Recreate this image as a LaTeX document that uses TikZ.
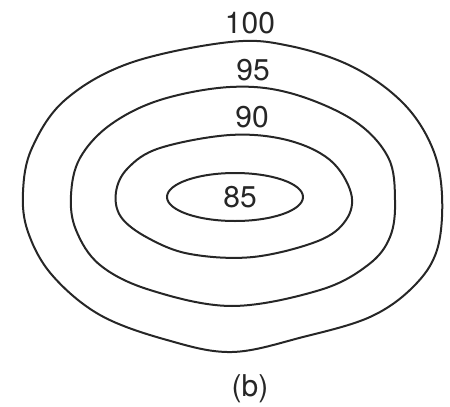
\documentclass[tikz,border=0pt]{standalone}
\usepackage{fontspec}
\setmainfont{TeX Gyre Heros}
\begin{document}
\begin{tikzpicture}[x=1pt,y=-1pt,
  contour/.style={draw=black!85,line width=2pt},
  lbl/.style={inner sep=0pt,text=black!85,font=\fontsize{30}{32}\selectfont}]
\useasboundingbox (0,0) rectangle (450,407);
% 100 contour
\draw[contour] plot[smooth cycle,tension=0.6] coordinates {
 (230,42) (290,46) (353,67) (403,103) (432,147) (442,195) (437,250) (413,287)
 (370,317) (303,337) (232,352) (167,340) (100,315) (52,275) (28,232) (23,192)
 (32,148) (65,100) (130,63)};
% 95 contour
\draw[contour] plot[smooth cycle,tension=0.6] coordinates {
 (230,87) (290,93) (353,120) (388,157) (395,200) (390,237) (368,265) (320,290)
 (232,306) (150,290) (100,265) (76,230) (71,195) (80,158) (110,125) (160,100)};
% 90 contour
\draw[contour] plot[smooth cycle,tension=0.6] coordinates {
 (230,135) (287,140) (330,160) (351,193) (346,220) (318,241) (253,257)
 (190,254) (148,238) (121,217) (116,192) (128,168) (160,148)};
% 85 contour
\draw[contour] (235,197) ellipse [x radius=68, y radius=24];
\node[lbl] (l100) at (250,23) {100};
\node[lbl] (l95) at (253,70) {95};
\node[lbl] (l90) at (252,117) {90};
\node[lbl] (l85) at (240,197) {85};
\node[lbl] (cap) at (250,389) {(b)};
\end{tikzpicture}
\end{document}
